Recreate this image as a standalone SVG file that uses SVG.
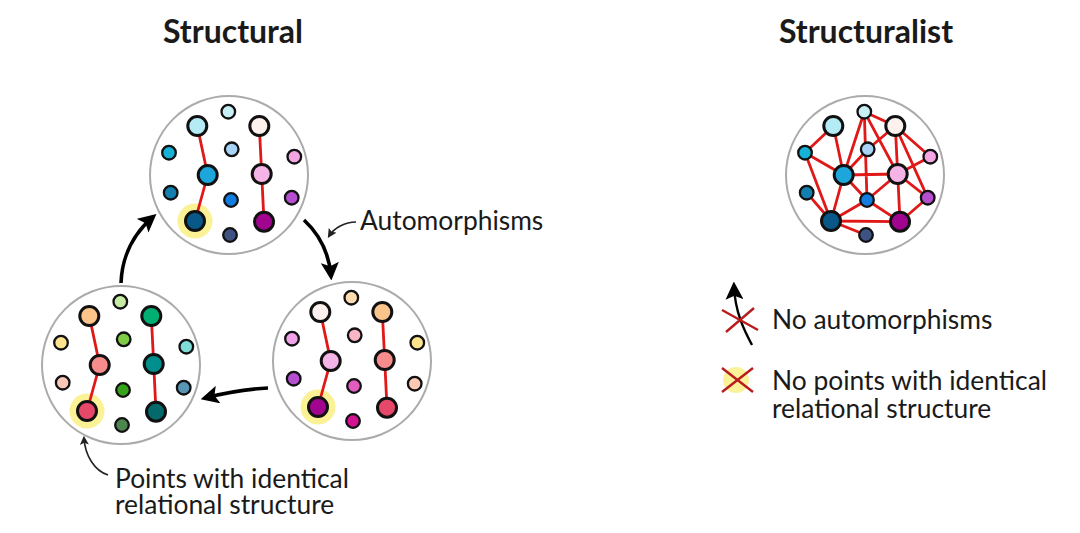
<svg xmlns="http://www.w3.org/2000/svg" width="1080" height="533" viewBox="0 0 1080 533">
<style>
.t{font-family:Lato,"Liberation Sans",sans-serif;fill:#1a1a1a}
.title{font-size:32px;font-weight:bold;text-anchor:middle}
.lab{font-size:26.4px}
.ring{fill:#fff;stroke:#ababab;stroke-width:2}
.n{stroke:#111;stroke-width:3}
.s{stroke:#111;stroke-width:2.3}
.e{stroke:#e01818;stroke-width:2.8;fill:none}
.halo{fill:#fbf08a;opacity:0.9}
.arr{fill:none;stroke:#000;stroke-width:3.6}
.thin{fill:none;stroke:#222;stroke-width:1.6}
.x{stroke:#b81c1c;stroke-width:2.4;fill:none}
</style>
<defs>
<marker id="ah" viewBox="0 0 12 12" refX="9" refY="6" markerWidth="18" markerHeight="18" markerUnits="userSpaceOnUse" orient="auto"><path d="M0,0 L12,6 L0,12 L2.5,6 Z" fill="#000"/></marker>
<marker id="ahs" viewBox="0 0 12 12" refX="9" refY="6" markerWidth="9" markerHeight="9" markerUnits="userSpaceOnUse" orient="auto"><path d="M0,0 L12,6 L0,12 L2.5,6 Z" fill="#222"/></marker>
</defs>
<rect width="1080" height="533" fill="#fff"/>

<text class="t title" x="233" y="43">Structural</text>
<text class="t title" x="866" y="43">Structuralist</text>

<!-- Top circle -->
<g id="circle-top" transform="translate(229,175)">
<circle class="ring" r="79"/>
<circle class="halo" cx="-34" cy="46" r="17.5"/>
<g class="edges"><path class="e" d="M-31.7,-49 L-21.3,0 L-34,46 M30.3,-49 L32.7,-1 L35,46.7"/></g>
<g id="top-A"><circle class="s" cx="-0.7" cy="-63.3" r="6.8" fill="#c9eff6"/></g>
<g id="top-B"><circle class="n" cx="-31.7" cy="-49" r="9.5" fill="#b5ebf4"/></g>
<g id="top-C"><circle class="n" cx="30.3" cy="-49" r="9.5" fill="#fdf1ee"/></g>
<g id="top-D"><circle class="s" cx="-60" cy="-22.3" r="6.8" fill="#16b1d6"/></g>
<g id="top-E"><circle class="s" cx="2.7" cy="-25.7" r="6.8" fill="#a9d3f5"/></g>
<g id="top-F"><circle class="s" cx="65.3" cy="-18.3" r="6.8" fill="#f3a6e3"/></g>
<g id="top-G"><circle class="n" cx="-21.3" cy="0" r="9.5" fill="#1ca6db"/></g>
<g id="top-H"><circle class="n" cx="32.7" cy="-1" r="9.5" fill="#f5b4e6"/></g>
<g id="top-I"><circle class="s" cx="-58.3" cy="17.7" r="6.8" fill="#137fae"/></g>
<g id="top-J"><circle class="s" cx="2" cy="25" r="6.8" fill="#127de0"/></g>
<g id="top-K"><circle class="s" cx="62.7" cy="22.7" r="6.8" fill="#b54fcf"/></g>
<g id="top-L"><circle class="n" cx="-34" cy="46" r="9.5" fill="#08598a"/></g>
<g id="top-M"><circle class="n" cx="35" cy="46.7" r="9.5" fill="#a1058f"/></g>
<g id="top-N"><circle class="s" cx="1" cy="60" r="6.8" fill="#3f5383"/></g>
</g>

<!-- Bottom-left circle -->
<g id="circle-left" transform="translate(121,365)">
<circle class="ring" r="79"/>
<circle class="halo" cx="-34" cy="46" r="17.5"/>
<g class="edges"><path class="e" d="M-31.7,-49 L-21.3,0 L-34,46 M30.3,-49 L32.7,-1 L35,46.7"/></g>
<g id="left-A"><circle class="s" cx="-0.7" cy="-63.3" r="6.8" fill="#c6eba4"/></g>
<g id="left-B"><circle class="n" cx="-31.7" cy="-49" r="9.5" fill="#fbc48a"/></g>
<g id="left-C"><circle class="n" cx="30.3" cy="-49" r="9.5" fill="#00b072"/></g>
<g id="left-D"><circle class="s" cx="-60" cy="-22.3" r="6.8" fill="#fde38d"/></g>
<g id="left-E"><circle class="s" cx="2.7" cy="-25.7" r="6.8" fill="#7fcb45"/></g>
<g id="left-F"><circle class="s" cx="65.3" cy="-18.3" r="6.8" fill="#7fdcd8"/></g>
<g id="left-G"><circle class="n" cx="-21.3" cy="0" r="9.5" fill="#f78c8c"/></g>
<g id="left-H"><circle class="n" cx="32.7" cy="-1" r="9.5" fill="#008f8c"/></g>
<g id="left-I"><circle class="s" cx="-58.3" cy="17.7" r="6.8" fill="#fbc5b8"/></g>
<g id="left-J"><circle class="s" cx="2" cy="25" r="6.8" fill="#36a11a"/></g>
<g id="left-K"><circle class="s" cx="62.7" cy="22.7" r="6.8" fill="#5896b5"/></g>
<g id="left-L"><circle class="n" cx="-34" cy="46" r="9.5" fill="#e6486a"/></g>
<g id="left-M"><circle class="n" cx="35" cy="46.7" r="9.5" fill="#03696b"/></g>
<g id="left-N"><circle class="s" cx="1" cy="60" r="6.8" fill="#4e8650"/></g>
</g>

<!-- Bottom-right circle -->
<g id="circle-right" transform="translate(352,361)">
<circle class="ring" r="79"/>
<circle class="halo" cx="-34" cy="46" r="17.5"/>
<g class="edges"><path class="e" d="M-31.7,-49 L-21.3,0 L-34,46 M30.3,-49 L32.7,-1 L35,46.7"/></g>
<g id="right-A"><circle class="s" cx="-0.7" cy="-63.3" r="6.8" fill="#fddcb0"/></g>
<g id="right-B"><circle class="n" cx="-31.7" cy="-49" r="9.5" fill="#fdf1ee"/></g>
<g id="right-C"><circle class="n" cx="30.3" cy="-49" r="9.5" fill="#fbc48a"/></g>
<g id="right-D"><circle class="s" cx="-60" cy="-22.3" r="6.8" fill="#f2a3e8"/></g>
<g id="right-E"><circle class="s" cx="2.7" cy="-25.7" r="6.8" fill="#f9b4c6"/></g>
<g id="right-F"><circle class="s" cx="65.3" cy="-18.3" r="6.8" fill="#fde38d"/></g>
<g id="right-G"><circle class="n" cx="-21.3" cy="0" r="9.5" fill="#f5b4e6"/></g>
<g id="right-H"><circle class="n" cx="32.7" cy="-1" r="9.5" fill="#f78c8c"/></g>
<g id="right-I"><circle class="s" cx="-58.3" cy="17.7" r="6.8" fill="#b54fcf"/></g>
<g id="right-J"><circle class="s" cx="2" cy="25" r="6.8" fill="#e25cbf"/></g>
<g id="right-K"><circle class="s" cx="62.7" cy="22.7" r="6.8" fill="#fcc9b4"/></g>
<g id="right-L"><circle class="n" cx="-34" cy="46" r="9.5" fill="#a1058f"/></g>
<g id="right-M"><circle class="n" cx="35" cy="46.7" r="9.5" fill="#e6486a"/></g>
<g id="right-N"><circle class="s" cx="1" cy="60" r="6.8" fill="#d4118e"/></g>
</g>

<!-- Structuralist circle -->
<g id="circle-structuralist" transform="translate(865,175)">
<circle class="ring" r="79"/>
<g class="edges"><path class="e" d="
M-31.7,-49 L-60,-22.3 M-31.7,-49 L-21.3,0 M-60,-22.3 L-21.3,0 M-60,-22.3 L-34,46
M-0.7,-63.3 L-21.3,0 M-0.7,-63.3 L2,25 M-0.7,-63.3 L30.3,-49 M-0.7,-63.3 L32.7,-1
M30.3,-49 L2.7,-25.7 M30.3,-49 L32.7,-1 M30.3,-49 L65.3,-18.3 M30.3,-49 L62.7,22.7
M2.7,-25.7 L-21.3,0 M65.3,-18.3 L32.7,-1 M-21.3,0 L32.7,-1 M-21.3,0 L-34,46
M-58.3,17.7 L-34,46 M-21.3,0 L2,25 M-34,46 L2,25 M-34,46 L35,46.7 M-34,46 L1,60
M32.7,-1 L2,25 M32.7,-1 L35,46.7 M32.7,-1 L62.7,22.7 M62.7,22.7 L35,46.7 M2,25 L35,46.7"/></g>
<g id="sl-A"><circle class="s" cx="-0.7" cy="-63.3" r="6.8" fill="#c9eff6"/></g>
<g id="sl-B"><circle class="n" cx="-31.7" cy="-49" r="9.5" fill="#b5ebf4"/></g>
<g id="sl-C"><circle class="n" cx="30.3" cy="-49" r="9.5" fill="#fdf1ee"/></g>
<g id="sl-D"><circle class="s" cx="-60" cy="-22.3" r="6.8" fill="#16b1d6"/></g>
<g id="sl-E"><circle class="s" cx="2.7" cy="-25.7" r="6.8" fill="#a9d3f5"/></g>
<g id="sl-F"><circle class="s" cx="65.3" cy="-18.3" r="6.8" fill="#f3a6e3"/></g>
<g id="sl-G"><circle class="n" cx="-21.3" cy="0" r="9.5" fill="#1ca6db"/></g>
<g id="sl-H"><circle class="n" cx="32.7" cy="-1" r="9.5" fill="#f5b4e6"/></g>
<g id="sl-I"><circle class="s" cx="-58.3" cy="17.7" r="6.8" fill="#137fae"/></g>
<g id="sl-J"><circle class="s" cx="2" cy="25" r="6.8" fill="#127de0"/></g>
<g id="sl-K"><circle class="s" cx="62.7" cy="22.7" r="6.8" fill="#b54fcf"/></g>
<g id="sl-L"><circle class="n" cx="-34" cy="46" r="9.5" fill="#08598a"/></g>
<g id="sl-M"><circle class="n" cx="35" cy="46.7" r="9.5" fill="#a1058f"/></g>
<g id="sl-N"><circle class="s" cx="1" cy="60" r="6.8" fill="#3f5383"/></g>
</g>

<!-- Connectors -->
<g id="connectors">
<path class="arr" d="M121,283 C122,256 134,233 153,217" marker-end="url(#ah)"/>
<path class="arr" d="M304,220 C318,233 329,252 331,276" marker-end="url(#ah)"/>
<path class="arr" d="M268,388 C248,389 224,393 205,398" marker-end="url(#ah)"/>
<path class="thin" d="M356,222 C345,222 334,228 329,236" marker-end="url(#ahs)"/>
<path class="thin" d="M108,475 C95,471 85,456 84,438" marker-end="url(#ahs)"/>
</g>

<text class="t lab" x="360" y="230">Automorphisms</text>
<text class="t lab" x="115" y="488">Points with identical<tspan x="115" y="514">relational structure</tspan></text>

<!-- Legend -->
<g id="legend-automorphisms">
<path class="thin" style="stroke:#000;stroke-width:2.4" d="M752,345 C744,330 735,312 734,286" marker-end="url(#ah)"/>
<path class="x" d="M722,310 L758,330 M726,332 L754,308"/>
<text class="t lab" x="772" y="329">No automorphisms</text>
</g>
<g id="legend-identical">
<circle cx="736" cy="380" r="13" fill="#fbf29a"/>
<path class="x" d="M722,368 L753,392 M722,392 L753,368"/>
<text class="t lab" x="772" y="390">No points with identical<tspan x="772" y="418">relational structure</tspan></text>
</g>
</svg>
